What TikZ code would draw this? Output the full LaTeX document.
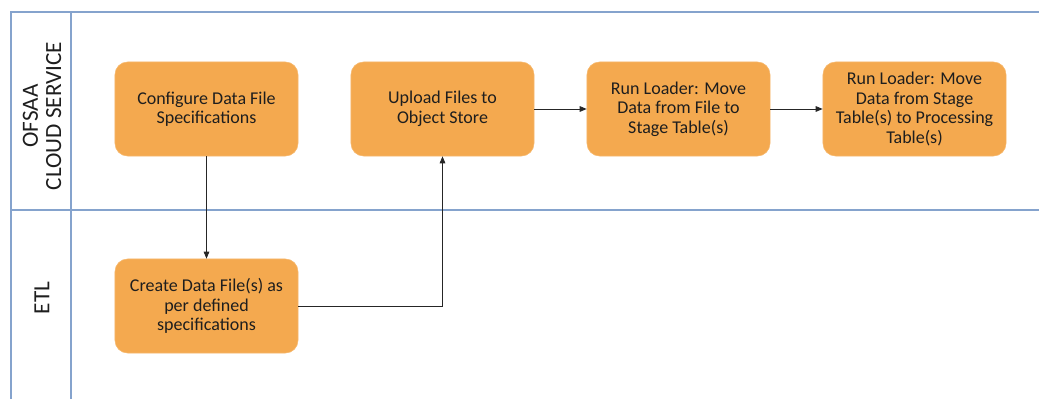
\documentclass[tikz,border=0pt]{standalone}
\usepackage{fontspec}
\setmainfont{Carlito}
\usetikzlibrary{arrows.meta,positioning,calc}

\definecolor{stepfill}{RGB}{244,169,79}
\definecolor{lanecol}{RGB}{133,163,205}
\definecolor{txtcol}{RGB}{30,30,30}

\begin{document}
\begin{tikzpicture}[x=0.025cm, y=0.025cm,
  >=Stealth, font=\normalsize,
  lane/.style={draw=lanecol, line width=1pt},
  stepbox/.style={fill=stepfill, draw=stepfill!85!white, line width=0.4pt, rounded corners=9pt,
    minimum width=4.575cm, minimum height=2.35cm, align=center, text=txtcol,
    font=\fontsize{12.8}{13.8}\selectfont},
  lanehead/.style={rotate=90, align=center, text=txtcol, font=\fontsize{16.5}{16.5}\selectfont},
  flow/.style={-{Triangle[length=5pt,width=4pt]}, line width=0.6pt, black!85},
]
\useasboundingbox (0,0) rectangle (1039,399);

% ======================= Swimlane frame =======================
\draw[lane] (11,0) -- (11,387) -- (1039,387);
\draw[lane] (71,0) -- (71,387);
\draw[lane] (11,189) -- (1039,189);
\node[lanehead] (cloud) at (42,283) {OFSAA\\CLOUD SERVICE};
\node[lanehead] (etl) at (42,101) {ETL};

% ======================= Steps =======================
\node[stepbox] (config) at (206.5,290) {Configure Data File\\Specifications};
\node[stepbox] (upload) at (442.5,290) {Upload Files to\\Object Store};
\node[stepbox] (loadstage) at (678.5,290) {Run Loader: Move\\Data from File to\\Stage Table(s)};
\node[stepbox] (loadproc) at (914.5,290) {Run Loader: Move\\Data from Stage\\Table(s) to Processing\\Table(s)};
\node[stepbox] (create) at (206.5,93) {Create Data File(s) as\\per defined\\specifications};

% ======================= Connectors =======================
\draw[flow] (config) -- (create);
\draw[flow] (create.east) -| (upload.south);
\draw[flow] (upload) -- (loadstage);
\draw[flow] (loadstage) -- (loadproc);

\end{tikzpicture}
\end{document}
